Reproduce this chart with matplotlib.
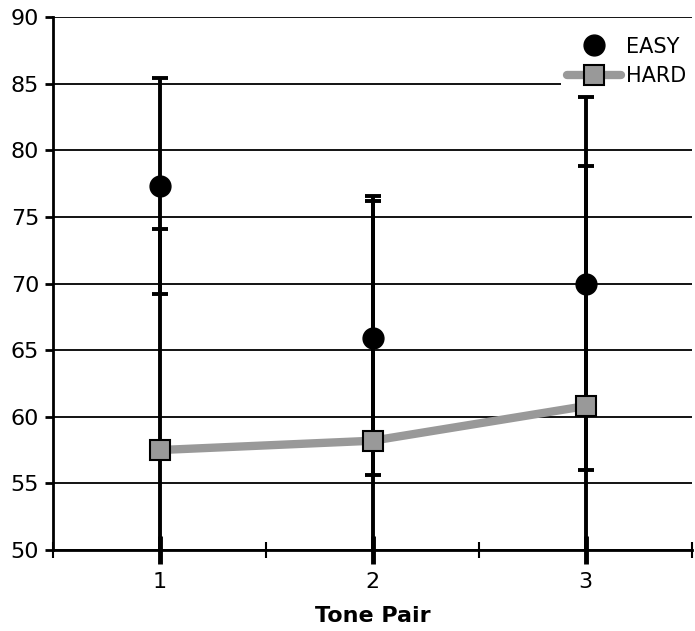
import matplotlib
matplotlib.use("Agg")
import matplotlib.pyplot as plt
from matplotlib.ticker import FixedLocator

categories = [1, 2, 3]
easy_mean = [77.3, 65.9, 70.0]
easy_err = [8.1, 10.3, 14.0]
hard_mean = [57.5, 58.2, 60.8]
hard_err = [16.6, 18.4, 18.0]
y_ticks = [50, 55, 60, 65, 70, 75, 80, 85, 90]

plt.rcParams['font.family'] = ['DejaVu Sans']

fig = plt.figure(figsize=(6.95, 6.31), dpi=100)
ax = fig.add_axes([0.0763, 0.1284, 0.9194, 0.8446])

ax.set_xlim(0.5, 3.5)
ax.set_ylim(50, 90)

for y in y_ticks:
    ax.axhline(y, color='black', lw=1.3, zorder=1)

ax.errorbar(categories, easy_mean, yerr=easy_err, fmt='none', ecolor='black',
            elinewidth=2.8, capsize=6, capthick=2.8, zorder=2, clip_on=True)
ax.errorbar(categories, hard_mean, yerr=hard_err, fmt='none', ecolor='black',
            elinewidth=2.8, capsize=6, capthick=2.8, zorder=2, clip_on=True)

ax.plot(categories, hard_mean, color='#999999', lw=6, marker='s', markersize=15,
        markerfacecolor='#999999', markeredgecolor='black', markeredgewidth=1.5,
        zorder=3, label='HARD', solid_capstyle='round')
ax.plot(categories, easy_mean, linestyle='none', marker='o', markersize=15,
        color='black', zorder=4, label='EASY')

handles, labels = ax.get_legend_handles_labels()
leg = ax.legend(handles[::-1], labels[::-1], loc='upper right', frameon=True,
                bbox_to_anchor=(1.0, 0.975),
                fontsize=15, handlelength=2.6, handletextpad=0.2,
                borderaxespad=0.0, labelspacing=0.45, borderpad=0.3)
leg.get_frame().set_edgecolor('none')
leg.get_frame().set_facecolor('white')
leg.get_frame().set_alpha(1)
leg.set_zorder(5)

for s in ['top', 'right']:
    ax.spines[s].set_visible(False)
for s in ['left', 'bottom']:
    ax.spines[s].set_linewidth(2)
    ax.spines[s].set_zorder(6)

ax.set_yticks(y_ticks)
ax.tick_params(axis='y', direction='out', length=6, width=2, labelsize=16, pad=4)
ax.set_xticks(categories)
ax.xaxis.set_minor_locator(FixedLocator([0.5, 1.5, 2.5, 3.5]))
ax.tick_params(axis='x', which='major', direction='inout', length=20, width=3.5,
               labelsize=16, pad=6)
ax.tick_params(axis='x', which='minor', direction='inout', length=11, width=1.5)
ax.set_xlabel('Tone Pair', fontsize=16, fontweight='bold', labelpad=10)

fig.savefig('out.png', dpi=100)
